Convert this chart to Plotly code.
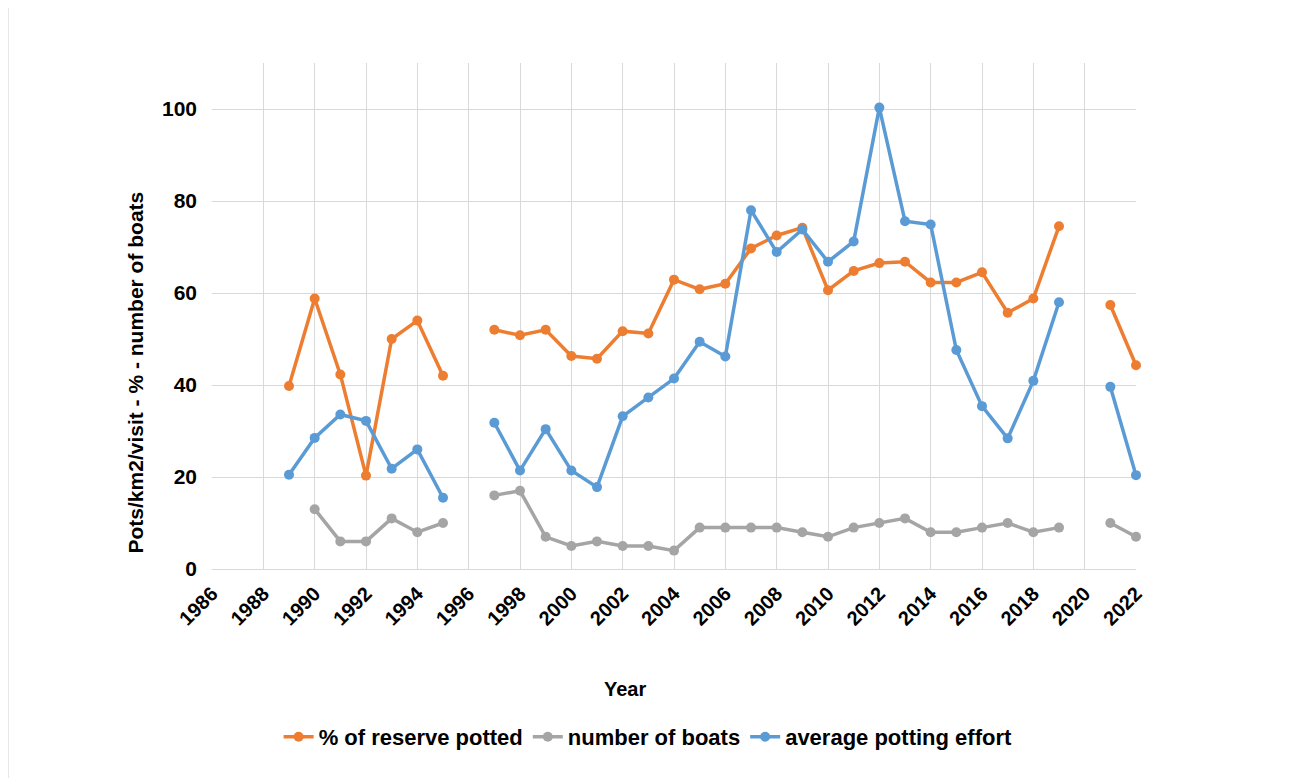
import plotly.graph_objects as go

years = list(range(1989, 2023))

pct_reserve_potted = [39.8, 58.8, 42.3, 20.3, 50.0, 54.0, 42.0, None,
                      52.0, 50.8, 52.0, 46.3, 45.7, 51.7, 51.2, 62.9, 60.8, 62.0,
                      69.7, 72.5, 74.2, 60.6, 64.8, 66.5, 66.8, 62.3, 62.3, 64.5,
                      55.7, 58.8, 74.5, None, 57.4, 44.3]

number_of_boats = [None, 13, 6, 6, 11, 8, 10, None,
                   16, 17, 7, 5, 6, 5, 5, 4, 9, 9,
                   9, 9, 8, 7, 9, 10, 11, 8, 8, 9,
                   10, 8, 9, None, 10, 7]

avg_potting_effort = [20.5, 28.5, 33.6, 32.2, 21.8, 26.0, 15.5, None,
                      31.8, 21.4, 30.4, 21.4, 17.8, 33.2, 37.3, 41.4, 49.4, 46.2,
                      78.0, 68.9, 73.8, 66.8, 71.2, 100.3, 75.6, 74.9, 47.6, 35.4,
                      28.4, 40.9, 58.0, None, 39.6, 20.4]

series = [
    ("% of reserve potted", pct_reserve_potted, "#ED7D31"),
    ("number of boats", number_of_boats, "#A5A5A5"),
    ("average potting effort", avg_potting_effort, "#5B9BD5"),
]

tick_years = list(range(1986, 2023, 2))
y_ticks = [0, 20, 40, 60, 80, 100]

font_family = "Liberation Sans, Arial, sans-serif"

fig = go.Figure()
for name, vals, col in series:
    fig.add_trace(go.Scatter(
        x=years, y=vals, name="<b>" + name + "</b>", mode="lines+markers",
        connectgaps=False, cliponaxis=False,
        line=dict(color=col, width=3.5),
        marker=dict(color=col, size=10),
    ))

fig.update_layout(
    width=1287, height=770,
    margin=dict(l=204, r=159, t=55, b=209),
    paper_bgcolor="white", plot_bgcolor="white",
    font=dict(family=font_family, color="#000000"),
    showlegend=True,
    legend=dict(orientation="h", x=0.472, xanchor="center", y=-0.332, yanchor="middle",
                font=dict(size=22, family=font_family, color="#000"),
                tracegroupgap=0),
    xaxis=dict(range=[1986, 2022], tickvals=tick_years,
               ticktext=["<b>%d</b>" % t for t in tick_years],
               tickangle=-45, showgrid=True, gridcolor="#D9D9D9", gridwidth=1.3,
               zeroline=False, showline=True, linecolor="#D9D9D9", linewidth=1.3,
               tickfont=dict(size=20, family=font_family, color="#000"),
               ticks="", ticklabelstandoff=4),
    yaxis=dict(range=[0, 110], tickvals=y_ticks,
               ticktext=["<b>%d</b>" % t for t in y_ticks],
               showgrid=True, gridcolor="#D9D9D9", gridwidth=1.3,
               zeroline=False, showline=False,
               tickfont=dict(size=21, family=font_family, color="#000"),
               ticks="", ticklabelstandoff=14),
    annotations=[
        dict(text="<b>Year</b>", xref="paper", yref="paper", x=0.447, y=-0.237,
             showarrow=False, font=dict(size=20, family=font_family, color="#000"),
             xanchor="center", yanchor="middle"),
        dict(text="<b>Pots/km2/visit - % - number of boats</b>", xref="paper", yref="paper",
             x=-0.083, y=0.389, textangle=-90, showarrow=False,
             font=dict(size=21, family=font_family, color="#000"),
             xanchor="center", yanchor="middle"),
    ],
    shapes=[
        dict(type="rect", xref="paper", yref="paper", x0=-0.2208, x1=1.1667,
             y0=-0.43, y1=1.1166, line=dict(color="#D9D9D9", width=1.3), layer="below"),
    ],
)

fig.write_html("out.html")
